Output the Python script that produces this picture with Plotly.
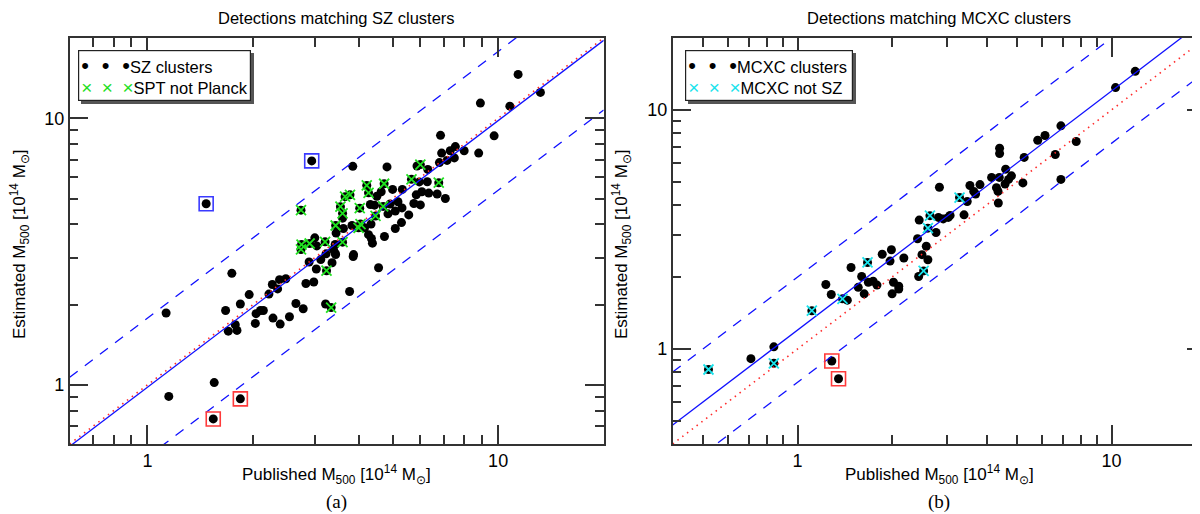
import math
import plotly.graph_objects as go

W, H = 1200, 514

# ---------------- panel (a): detections matching SZ clusters ----------------
# published vs estimated M500 [1e14 Msun], black dots only
sz_pub = [1.13, 1.15, 1.55, 1.74, 1.67, 1.70, 1.78, 1.80, 1.84, 1.95,
          2.04, 2.03, 2.10, 2.14, 2.22, 2.27, 2.28, 2.35, 2.38, 2.48,
          2.39, 2.54, 2.65, 2.78, 2.83, 2.98, 2.89, 3.03, 3.12, 3.23,
          3.36, 3.44, 3.39, 3.22, 3.77, 3.86, 4.56, 8.9, 11.4, 13.2,
          10.8, 6.85, 9.74, 7.55, 6.9, 7.3, 6.8, 7.15, 7.5, 8.0,
          8.8, 5.87, 6.3, 5.96, 6.28, 5.33, 6.06, 5.84, 6.34, 6.7,
          7.07, 6.0, 5.75, 4.82, 3.85, 4.64, 5.0, 3.6, 4.32, 4.51,
          4.44, 4.92, 5.18, 5.32, 5.09, 4.85, 5.56, 5.3, 5.09, 4.74,
          4.34, 4.16, 3.83, 3.62, 3.45, 4.27, 4.35, 4.38, 3.43, 3.0,
          3.04, 3.87, 3.43]
sz_est = [1.86, 0.905, 1.02, 2.62, 1.90, 1.59, 1.68, 1.60, 2.01, 2.18,
          1.85, 1.70, 1.90, 1.90, 2.19, 2.38, 1.78, 2.29, 2.48, 2.50,
          1.69, 1.80, 2.02, 1.93, 2.40, 2.43, 2.89, 2.72, 2.95, 3.10,
          2.87, 3.08, 3.22, 2.01, 2.24, 3.03, 2.75, 11.4, 14.6, 12.5,
          11.1, 8.63, 8.59, 7.83, 7.4, 7.55, 6.82, 6.95, 7.1, 7.55,
          7.4, 6.62, 6.43, 5.77, 5.78, 5.41, 5.30, 5.16, 5.24, 5.2,
          5.0, 4.73, 4.79, 6.57, 6.6, 5.3, 5.41, 4.22, 4.75, 5.1,
          4.72, 4.77, 4.86, 4.61, 4.49, 4.38, 4.34, 4.06, 3.86, 3.6,
          4.01, 3.88, 3.96, 3.86, 3.71, 3.66, 3.54, 3.4, 3.36, 3.56,
          3.32, 3.08, 3.12]
# SPT clusters not in Planck (green crosses)
spt_pub = [3.24, 3.34, 2.74, 6.0, 5.66, 6.77, 4.22, 4.27, 4.73, 3.66,
           3.78, 3.55, 3.6, 4.03, 4.7, 4.47, 4.05, 4.0, 3.44, 3.6,
           3.21, 2.75, 2.9, 2.74]
spt_est = [2.68, 1.95, 3.22, 6.7, 5.9, 5.73, 5.6, 5.25, 5.68, 5.08,
           5.16, 4.66, 4.4, 4.6, 4.67, 4.3, 4.01, 3.88, 3.96, 3.43,
           3.44, 3.36, 3.39, 4.52]
# outliers boxed in blue (over) and red (under)
sz_hi_pub = [1.47, 2.94]
sz_hi_est = [4.78, 6.92]
sz_lo_pub = [1.54, 1.84]
sz_lo_est = [0.745, 0.886]

sz_range = [0.6, 20]
sz_fit = 0.98
sz_band = [1.78, 0.537]

# ---------------- panel (b): detections matching MCXC clusters ----------------
mcxc_pub = [0.71, 0.84, 1.44, 1.28, 1.23, 1.48, 1.60, 1.56, 1.63, 1.68,
            1.74, 1.79, 1.97, 1.99, 1.86, 2.02, 2.10, 2.10, 2.0, 2.18,
            2.43, 2.6, 2.49, 2.57, 2.41, 2.76, 2.44, 2.81, 2.91, 3.02,
            3.06, 2.83, 3.39, 3.47, 3.54, 3.81, 3.64, 3.69, 4.36, 4.30,
            4.35, 4.15, 4.39, 4.80, 4.70, 4.58, 4.60, 4.40, 4.40, 5.22,
            5.27, 6.62, 6.90, 5.82, 6.14, 7.72, 6.90, 10.3, 11.9]
mcxc_est = [0.91, 1.02, 1.60, 1.69, 1.86, 2.19, 2.01, 1.81, 1.70, 1.90,
            1.92, 1.85, 2.33, 2.60, 2.49, 1.90, 1.83, 1.78, 1.70, 2.40,
            2.01, 2.36, 2.48, 2.69, 2.89, 3.07, 3.46, 3.55, 3.50, 3.55,
            3.62, 4.75, 3.64, 4.14, 4.83, 4.87, 4.56, 4.45, 4.08, 4.73,
            4.56, 5.22, 5.22, 5.30, 5.12, 4.9, 5.65, 6.92, 6.57, 4.95,
            6.33, 6.51, 5.12, 7.47, 7.82, 7.38, 8.58, 12.4, 14.5]
# MCXC clusters not in SZ catalogues (cyan crosses)
nosz_pub = [0.52, 0.84, 1.11, 1.39, 1.67, 2.52, 2.60, 2.64, 3.28]
nosz_est = [0.82, 0.87, 1.445, 1.62, 2.30, 2.12, 3.20, 3.61, 4.30]
mcxc_lo_pub = [1.285, 1.35]
mcxc_lo_est = [0.89, 0.75]

mcxc_range = [0.4, 20]
mcxc_fit = 1.2
mcxc_band = [2.0, 0.725]

one_to_one = 1.0

FONT = "Liberation Sans, Arial, sans-serif"
GREEN = "#1fe01f"
CYAN = "#19e3ec"
BLUE = "#1010ff"
RED = "#ff2a2a"


def px(x):
    return x / W


def py(y):
    return 1 - y / H


fig = go.Figure()


def add_panel(xa, ya, pub, est, cx, cy, ccol, boxes, xr, fit, band):
    # all clusters as black dots
    all_x, all_y = list(pub) + list(cx), list(est) + list(cy)
    for bx, by, _ in boxes:
        all_x += bx
        all_y += by
    fig.add_trace(go.Scatter(x=all_x, y=all_y, mode="markers", xaxis=xa, yaxis=ya,
                             marker=dict(color="black", size=9, line=dict(width=0))))
    # reference lines: 1:1 (red dotted), fit (blue), scatter band (blue dashed)
    lx = list(xr)
    fig.add_trace(go.Scatter(x=lx, y=[one_to_one * v for v in lx], mode="lines",
                             xaxis=xa, yaxis=ya,
                             line=dict(color=RED, width=1.6, dash="1.5px,4.5px")))
    fig.add_trace(go.Scatter(x=lx, y=[fit * v for v in lx], mode="lines",
                             xaxis=xa, yaxis=ya, line=dict(color=BLUE, width=1.3)))
    for b in band:
        fig.add_trace(go.Scatter(x=lx, y=[b * v for v in lx], mode="lines",
                                 xaxis=xa, yaxis=ya,
                                 line=dict(color=BLUE, width=1.3, dash="10px,9px")))
    # crosses
    fig.add_trace(go.Scatter(x=cx, y=cy, mode="markers", xaxis=xa, yaxis=ya,
                             marker=dict(symbol="x-thin", size=10, color=ccol,
                                         line=dict(color=ccol, width=1.8))))
    # boxed outliers
    for bx, by, bcol in boxes:
        fig.add_trace(go.Scatter(x=bx, y=by, mode="markers", xaxis=xa, yaxis=ya,
                                 marker=dict(symbol="square-open", size=14, color=bcol,
                                             line=dict(color=bcol, width=1.6))))


add_panel("x", "y", sz_pub, sz_est, spt_pub, spt_est, GREEN,
          [(sz_hi_pub, sz_hi_est, "#3a3aff"), (sz_lo_pub, sz_lo_est, "#ff3a3a")],
          sz_range, sz_fit, sz_band)
add_panel("x2", "y2", mcxc_pub, mcxc_est, nosz_pub, nosz_est, CYAN,
          [(mcxc_lo_pub, mcxc_lo_est, "#ff3a3a")],
          mcxc_range, mcxc_fit, mcxc_band)


def log_axis(rng, domain, anchor):
    return dict(type="log", range=[math.log10(rng[0]), math.log10(rng[1])],
                domain=domain, anchor=anchor,
                showline=True, linecolor="#333", linewidth=1.5, mirror="ticks",
                ticks="inside", ticklen=19, tickwidth=1.5, tickcolor="#333",
                dtick=1, showgrid=False, zeroline=False,
                tickfont=dict(family=FONT, size=18, color="black"),
                minor=dict(ticks="inside", ticklen=9, tickwidth=1.5,
                           tickcolor="#333", dtick="D1", showgrid=False))


ydom = [py(436), py(30)]
fig.update_layout(
    width=W, height=H, showlegend=False,
    margin=dict(l=0, r=0, t=0, b=0),
    plot_bgcolor="white", paper_bgcolor="white",
    xaxis=log_axis(sz_range, [px(61.7), px(595.7)], "y"),
    yaxis=log_axis(sz_range, ydom, "x"),
    xaxis2=log_axis(mcxc_range, [px(664.7), px(1198)], "y2"),
    yaxis2=log_axis(mcxc_range, ydom, "x2"),
)

xt = "Published M<sub>500</sub> [10<sup>14</sup> M<sub>⊙</sub>]"
yt = "Estimated M<sub>500</sub> [10<sup>14</sup> M<sub>⊙</sub>]"


def label(text, x, y, size, family=FONT, angle=0, yanchor="middle"):
    return dict(text=text, x=px(x), y=py(y), xref="paper", yref="paper",
                xanchor="center", yanchor=yanchor, textangle=angle, showarrow=False,
                borderpad=0, font=dict(family=family, size=size, color="black"))


ann = []
for cx, ytx, title, tag in [(328.7, 12, "Detections matching SZ clusters", "(a)"),
                             (931.3, 614, "Detections matching MCXC clusters", "(b)")]:
    ann.append(label(title, cx, 0, 16.5, yanchor="top"))
    ann.append(label(xt, cx, 466, 17))
    ann.append(label(tag, cx, 494, 19, "Liberation Serif, Times New Roman, serif"))
    ann.append(label(yt, ytx, 236, 17, angle=-90))

dot = "<span style='font-size:22px'>•</span>"
dsp = "\u2002\u00a0"
xsp = "\u2002"
shapes = []
for x0, x1, lab1, lab2, col in [(70, 243, "SZ clusters", "SPT not Planck", GREEN),
                                (677, 845, "MCXC clusters", "MCXC not SZ", CYAN)]:
    shapes.append(dict(type="rect", xref="paper", yref="paper", layer="above",
                       x0=px(x0 + 3), x1=px(x1 + 3), y0=py(96), y1=py(45),
                       fillcolor="#555", line=dict(width=0)))
    txt = (f"{dot}{dsp}{dot}{dsp}{dot}{lab1}<br>"
           f"<span style='color:{col};font-size:19px'>×{xsp}×{xsp}×</span>{lab2}")
    ann.append(dict(text=txt, x=px(x0), y=py(42), xref="paper", yref="paper",
                    xanchor="left", yanchor="top", align="left", showarrow=False,
                    width=x1 - x0 - 6, height=45, bgcolor="white",
                    bordercolor="#222", borderwidth=1.2, borderpad=2,
                    font=dict(family=FONT, size=16.5, color="black")))

fig.update_layout(annotations=ann, shapes=shapes)

fig.write_html("out.html")
